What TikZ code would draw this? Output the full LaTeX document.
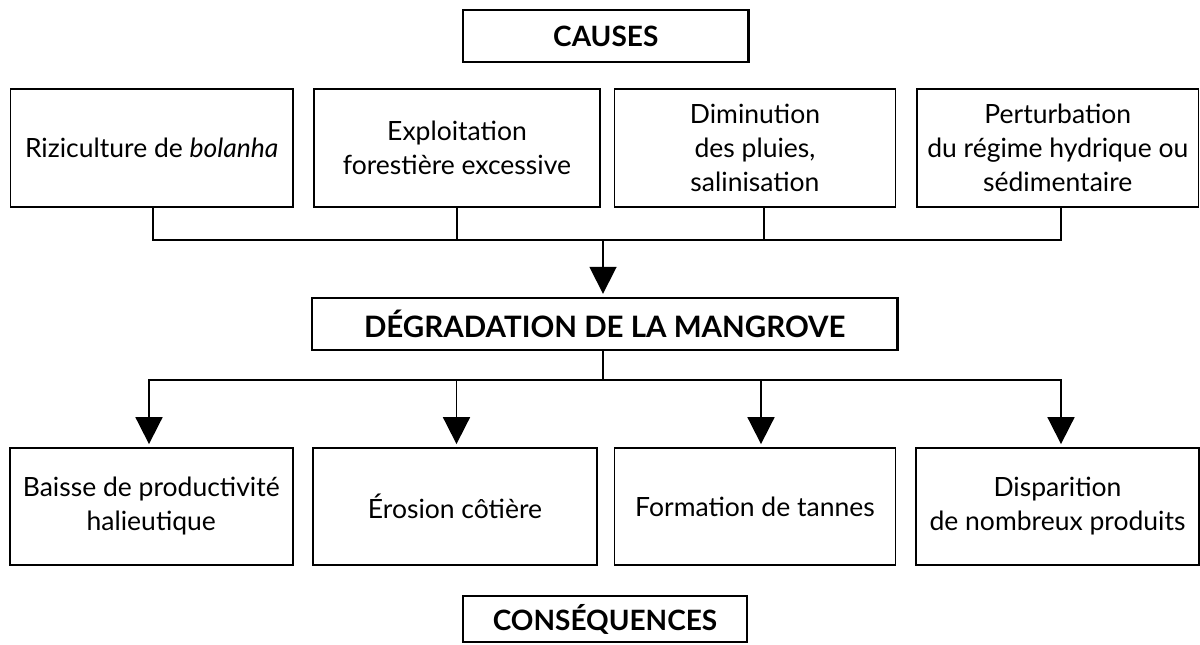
\documentclass[tikz,border=0pt]{standalone}
\usepackage{fontspec}
\setmainfont{Lato}
\usetikzlibrary{arrows.meta,calc}
\begin{document}
\begin{tikzpicture}[x=1pt,y=-1pt,
  box/.style={draw, line width=1.8pt, inner sep=0pt, align=center, font=\fontsize{26.5}{34}\selectfont},
  titlebox/.style={draw, line width=2.4pt, inner sep=0pt, font=\fontsize{28}{34}\selectfont\bfseries},
  conn/.style={line width=1.8pt, line cap=rect},
  arr/.style={line width=1.8pt, -{Triangle[width=27pt,length=27pt]}, shorten >=3pt}
]
\useasboundingbox (0,0) rectangle (1200,645);
% titles
\node[titlebox, minimum width=285.5pt, minimum height=52pt] (causes) at (605.75,36) {CAUSES};
\node[titlebox, minimum width=585.5pt, minimum height=52pt, font=\fontsize{29.5}{34}\selectfont\bfseries] (deg) at (604.75,324) {DÉGRADATION DE LA MANGROVE};
\node[titlebox, minimum width=284pt, minimum height=46pt] (cons) at (605,619) {CONSÉQUENCES};
% causes
\node[box, minimum width=282.5pt, minimum height=118pt] (c1) at (151.75,148) {Riziculture de \textit{bolanha}};
\node[box, minimum width=286pt, minimum height=118pt] (c2) at (457,148) {Exploitation\\forestière excessive};
\node[box, minimum width=281pt, minimum height=118pt] (c3) at (755,148) {Diminution\\des pluies,\\salinisation};
\node[box, minimum width=281.5pt, minimum height=118pt] (c4) at (1057.75,148) {Perturbation\\du régime hydrique ou\\sédimentaire};
% consequences
\node[box, minimum width=283.4pt, minimum height=117pt] (e1) at (151.3,506.5) {Baisse de productivité\\halieutique};
\node[box, minimum width=284pt, minimum height=117pt] (e2) at (455,506.5) {Érosion côtière};
\node[box, minimum width=281pt, minimum height=117pt] (e3) at (755,506.5) {Formation de tannes};
\node[box, minimum width=283pt, minimum height=117pt] (e4) at (1057.5,506.5) {Disparition\\de nombreux produits};
% upper connectors
\coordinate (ja) at (153,240);
\coordinate (jb) at (457,240);
\coordinate (jc) at (764,240);
\coordinate (jd) at (1061,240);
\coordinate (jm) at (603,240);
\draw[conn] (c1.south -| ja) -- (ja) -- (jd) -- (c4.south -| jd);
\draw[conn] (c2.south -| jb) -- (jb);
\draw[conn] (c3.south -| jc) -- (jc);
\draw[arr] (jm) -- (deg.north -| jm);
% lower connectors
\coordinate (ka) at (149,380);
\coordinate (kb) at (456.5,380);
\coordinate (kc) at (761,380);
\coordinate (kd) at (1061,380);
\coordinate (km) at (603,380);
\draw[conn] (deg.south -| km) -- (km);
\draw[conn] (ka) -- (kd);
\draw[arr] (ka) -- (e1.north -| ka);
\draw[arr] (kb) -- (e2.north -| kb);
\draw[arr] (kc) -- (e3.north -| kc);
\draw[arr] (kd) -- (e4.north -| kd);
\end{tikzpicture}
\end{document}
